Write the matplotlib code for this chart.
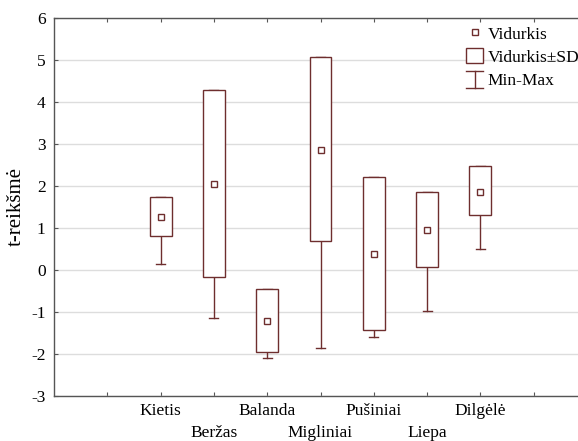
import matplotlib
matplotlib.use("Agg")
import matplotlib.pyplot as plt
from matplotlib.patches import Rectangle, Patch
from matplotlib.lines import Line2D
from matplotlib.legend_handler import HandlerBase

categories = ["Kietis", "Beržas", "Balanda", "Migliniai", "Pušiniai", "Liepa", "Dilgėlė"]
means = [1.27, 2.05, -1.21, 2.85, 0.38, 0.95, 1.85]
sd_low = [0.81, -0.18, -1.96, 0.69, -1.43, 0.07, 1.31]
sd_high = [1.73, 4.28, -0.46, 5.06, 2.21, 1.85, 2.47]
mins = [0.14, -1.16, -2.10, -1.86, -1.61, -0.97, 0.49]
maxs = [1.73, 4.28, -0.46, 5.06, 2.21, 1.85, 2.47]

plt.rcParams['font.family'] = ['Liberation Serif', 'DejaVu Serif']
plt.rcParams['axes.unicode_minus'] = False
col = '#6e2e2e'
spine_col = '#555555'
fs = 12.5

fig = plt.figure(figsize=(5.78, 4.41), dpi=100)
ax = fig.add_axes([54/578, 1-395.7/441, (587-54)/578, (395.7-18)/441])

box_w = 0.41
cap_w = 0.17
for i, c in enumerate(categories):
    x = i + 1
    ax.plot([x, x], [mins[i], sd_low[i]], color=col, lw=1.0, zorder=2)
    ax.plot([x - cap_w/2, x + cap_w/2], [mins[i], mins[i]], color=col, lw=1.0, zorder=2)
    ax.plot([x, x], [sd_high[i], maxs[i]], color=col, lw=1.0, zorder=2)
    ax.plot([x - cap_w/2, x + cap_w/2], [maxs[i], maxs[i]], color=col, lw=1.0, zorder=2)
    ax.add_patch(Rectangle((x - box_w/2, sd_low[i]), box_w, sd_high[i] - sd_low[i],
                           facecolor='white', edgecolor=col, lw=1.0, zorder=3))
    ax.plot([x], [means[i]], marker='s', ms=4, mfc='white', mec=col, mew=1.0, ls='none', zorder=4)

ax.set_xlim(-1, 9)
ax.set_ylim(-3, 6)
ax.set_yticks(range(-3, 7))

# first row labels on major ticks, second row on minor ticks
major_pos = [0] + [i + 1 for i in range(len(categories)) if i % 2 == 0] + [8]
major_lab = [""] + [c for i, c in enumerate(categories) if i % 2 == 0] + [""]
minor_pos = [i + 1 for i in range(len(categories)) if i % 2 == 1]
minor_lab = [c for i, c in enumerate(categories) if i % 2 == 1]
ax.set_xticks(major_pos)
ax.set_xticklabels(major_lab, fontsize=fs)
ax.set_xticks(minor_pos, minor=True)
ax.set_xticklabels(minor_lab, minor=True, fontsize=fs)

ax.tick_params(axis='y', labelsize=fs, direction='in', length=3, color=spine_col, pad=6)
ax.tick_params(axis='x', which='major', direction='in', length=3, color=spine_col, pad=5, top=True)
ax.tick_params(axis='x', which='minor', direction='in', length=3, width=0.8, color=spine_col, pad=21, top=True)
ax.grid(axis='y', which='major', color='#dddddd', lw=1.0, zorder=0)
ax.set_axisbelow(True)
for s in ax.spines.values():
    s.set_color(spine_col)
    s.set_linewidth(1.0)
ax.set_ylabel("t-reikšmė", fontsize=15, labelpad=4)


class HandlerMinMax(HandlerBase):
    def create_artists(self, legend, orig_handle, xdescent, ydescent, width, height, fontsize, trans):
        cx = -xdescent + width / 2
        y0 = -ydescent - height * 0.1
        y1 = -ydescent + height * 1.0
        cw = width * 0.95
        l1 = Line2D([cx, cx], [y0, y1], color=col, lw=1.0, transform=trans)
        l2 = Line2D([cx - cw/2, cx + cw/2], [y0, y0], color=col, lw=1.0, transform=trans)
        l3 = Line2D([cx - cw/2, cx + cw/2], [y1, y1], color=col, lw=1.0, transform=trans)
        return [l1, l2, l3]


h_mean = Line2D([], [], marker='s', ms=4, mfc='white', mec=col, mew=1.0, ls='none')
h_box = Patch(facecolor='white', edgecolor=col, lw=1.0)
h_mm = object()
leg = ax.legend([h_mean, h_box, h_mm], ["Vidurkis", "Vidurkis±SD", "Min-Max"],
                handler_map={h_mm: HandlerMinMax()},
                loc='upper left', frameon=False, fontsize=fs,
                handlelength=1.0, handleheight=1.0, handletextpad=0.25, labelspacing=0.3,
                borderaxespad=0.0, borderpad=0.0)
leg.set_bbox_to_anchor((466/578, 1 - 25/441), transform=fig.transFigure)

fig.savefig("out.png", dpi=100)
